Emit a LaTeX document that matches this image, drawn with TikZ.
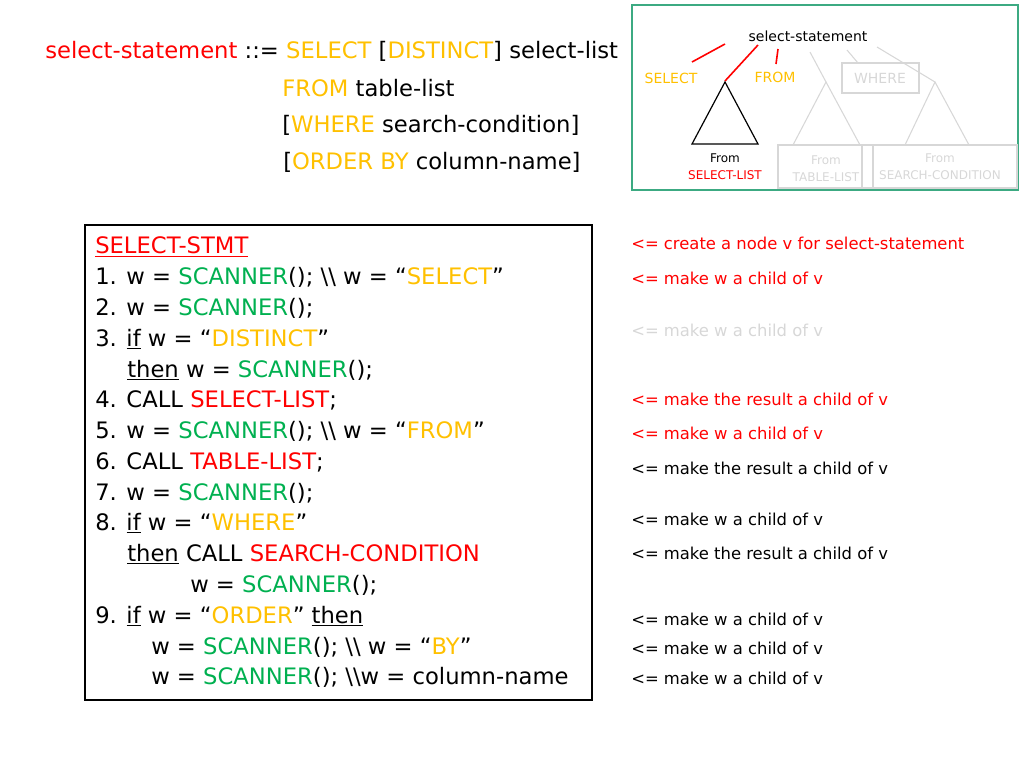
\documentclass[tikz,border=0pt]{standalone}
\usepackage{fontspec}
\setmainfont{DejaVu Sans}
\definecolor{gr}{RGB}{0,176,80}
\definecolor{yl}{RGB}{255,192,0}
\definecolor{rd}{RGB}{255,0,0}
\definecolor{lg}{RGB}{215,215,215}
\definecolor{fr}{RGB}{60,170,130}
\newcommand{\G}[1]{\textcolor{gr}{#1}}
\newcommand{\Y}[1]{\textcolor{yl}{#1}}
\newcommand{\R}[1]{\textcolor{rd}{#1}}
\newcommand{\ul}[1]{\underline{#1}}
\begin{document}
\begin{tikzpicture}[x=0.75pt,y=-0.75pt,
  big/.style={anchor=west,inner sep=0pt,font=\fontsize{17}{20}\selectfont},
  cmt/.style={anchor=west,inner sep=0pt,font=\fontsize{12.3}{14}\selectfont},
  tl/.style={inner sep=0pt,font=\fontsize{10.5}{12}\selectfont},
  ts/.style={inner sep=0pt,font=\fontsize{9}{10}\selectfont},
  ghost/.style={draw=lg,line width=0.8pt}]
\useasboundingbox (0,0) rectangle (1024,768);
% grammar
\node[big] (g1) at (45,51) {\R{select-statement} ::= \Y{SELECT} [\Y{DISTINCT}] select-list};
\node[big] (g2) at (282,88) {\Y{FROM} table-list};
\node[big] (g3) at (282,125) {[\Y{WHERE} search-condition]};
\node[big] (g4) at (283,162) {[\Y{ORDER BY} column-name]};
% tree frame
\draw[fr,line width=1pt] (632,5) rectangle (1018,190);
\node[tl] (root) at (808,36) {select-statement};
\node[tl,text=yl] (sel) at (671,78) {SELECT};
\node[tl,text=yl] (from) at (775,77) {FROM};
\draw[ghost] (842,63) rectangle (919,93);
\node[tl,text=lg] (where) at (880,78) {WHERE};
\draw[rd,line width=1.2pt] (692,62) -- (725,44);
\draw[rd,line width=1.2pt] (725,81) -- (758,45);
\draw[rd,line width=1.2pt] (778,49) -- (776,64);
\draw[line width=0.9pt] (725,82) -- (692,144) -- (758,144) -- cycle;
\node[ts] (f1) at (725,158) {From};
\node[ts,text=rd] (s1) at (725,175) {SELECT-LIST};
\draw[ghost] (810,52) -- (826,82);
\draw[ghost] (826,82) -- (793,145) -- (860,145) -- cycle;
\draw[ghost] (847,50) -- (858,63);
\draw[ghost] (877,47) -- (935,82);
\draw[ghost] (935,82) -- (905,145) -- (969,145) -- cycle;
\draw[ghost] (778,145) rectangle (862,188);
\draw[ghost] (862,145) rectangle (873,188);
\draw[ghost] (873,145) rectangle (1017,188);
\node[ts,text=lg] (f2) at (826,160) {From};
\node[ts,text=lg] (s2) at (826,177) {TABLE-LIST};
\node[ts,text=lg] (f3) at (940,158) {From};
\node[ts,text=lg] (s3) at (940,175) {SEARCH-CONDITION};
% code box
\draw[line width=0.8pt] (85,225) rectangle (592,700);
\node[big] (c0) at (95,247) {\R{\ul{SELECT-STMT}}};
\node[big] (c1) at (95,277) {1. w = \G{SCANNER}(); \textbackslash\textbackslash{} w = “\Y{SELECT}”};
\node[big] (c2) at (95,308) {2. w = \G{SCANNER}();};
\node[big] (c3) at (95,339) {3. \ul{if} w = “\Y{DISTINCT}”};
\node[big] (c3b) at (127,370) {\ul{then} w = \G{SCANNER}();};
\node[big] (c4) at (95,400) {4. CALL \R{SELECT-LIST};};
\node[big] (c5) at (95,431) {5. w = \G{SCANNER}(); \textbackslash\textbackslash{} w = “\Y{FROM}”};
\node[big] (c6) at (95,462) {6. CALL \R{TABLE-LIST};};
\node[big] (c7) at (95,493) {7. w = \G{SCANNER}();};
\node[big] (c8) at (95,523) {8. \ul{if} w = “\Y{WHERE}”};
\node[big] (c8b) at (127,554) {\ul{then} CALL \R{SEARCH-CONDITION}};
\node[big] (c8c) at (190,585) {w = \G{SCANNER}();};
\node[big] (c9) at (95,616) {9. \ul{if} w = “\Y{ORDER}” \ul{then}};
\node[big] (c9b) at (151,647) {w = \G{SCANNER}(); \textbackslash\textbackslash{} w = “\Y{BY}”};
\node[big] (c9c) at (151,677) {w = \G{SCANNER}(); \textbackslash\textbackslash w = column-name};
% comments
\node[cmt,text=rd] (k1) at (631,243) {<= create a node v for select-statement};
\node[cmt,text=rd] (k2) at (631,278) {<= make w a child of v};
\node[cmt,text=lg] (k3) at (631,330) {<= make w a child of v};
\node[cmt,text=rd] (k4) at (631,399) {<= make the result a child of v};
\node[cmt,text=rd] (k5) at (631,433) {<= make w a child of v};
\node[cmt] (k6) at (631,468) {<= make the result a child of v};
\node[cmt] (k7) at (631,519) {<= make w a child of v};
\node[cmt] (k8) at (631,553) {<= make the result a child of v};
\node[cmt] (k9) at (631,619) {<= make w a child of v};
\node[cmt] (k10) at (631,648) {<= make w a child of v};
\node[cmt] (k11) at (631,678) {<= make w a child of v};
\end{tikzpicture}
\end{document}
